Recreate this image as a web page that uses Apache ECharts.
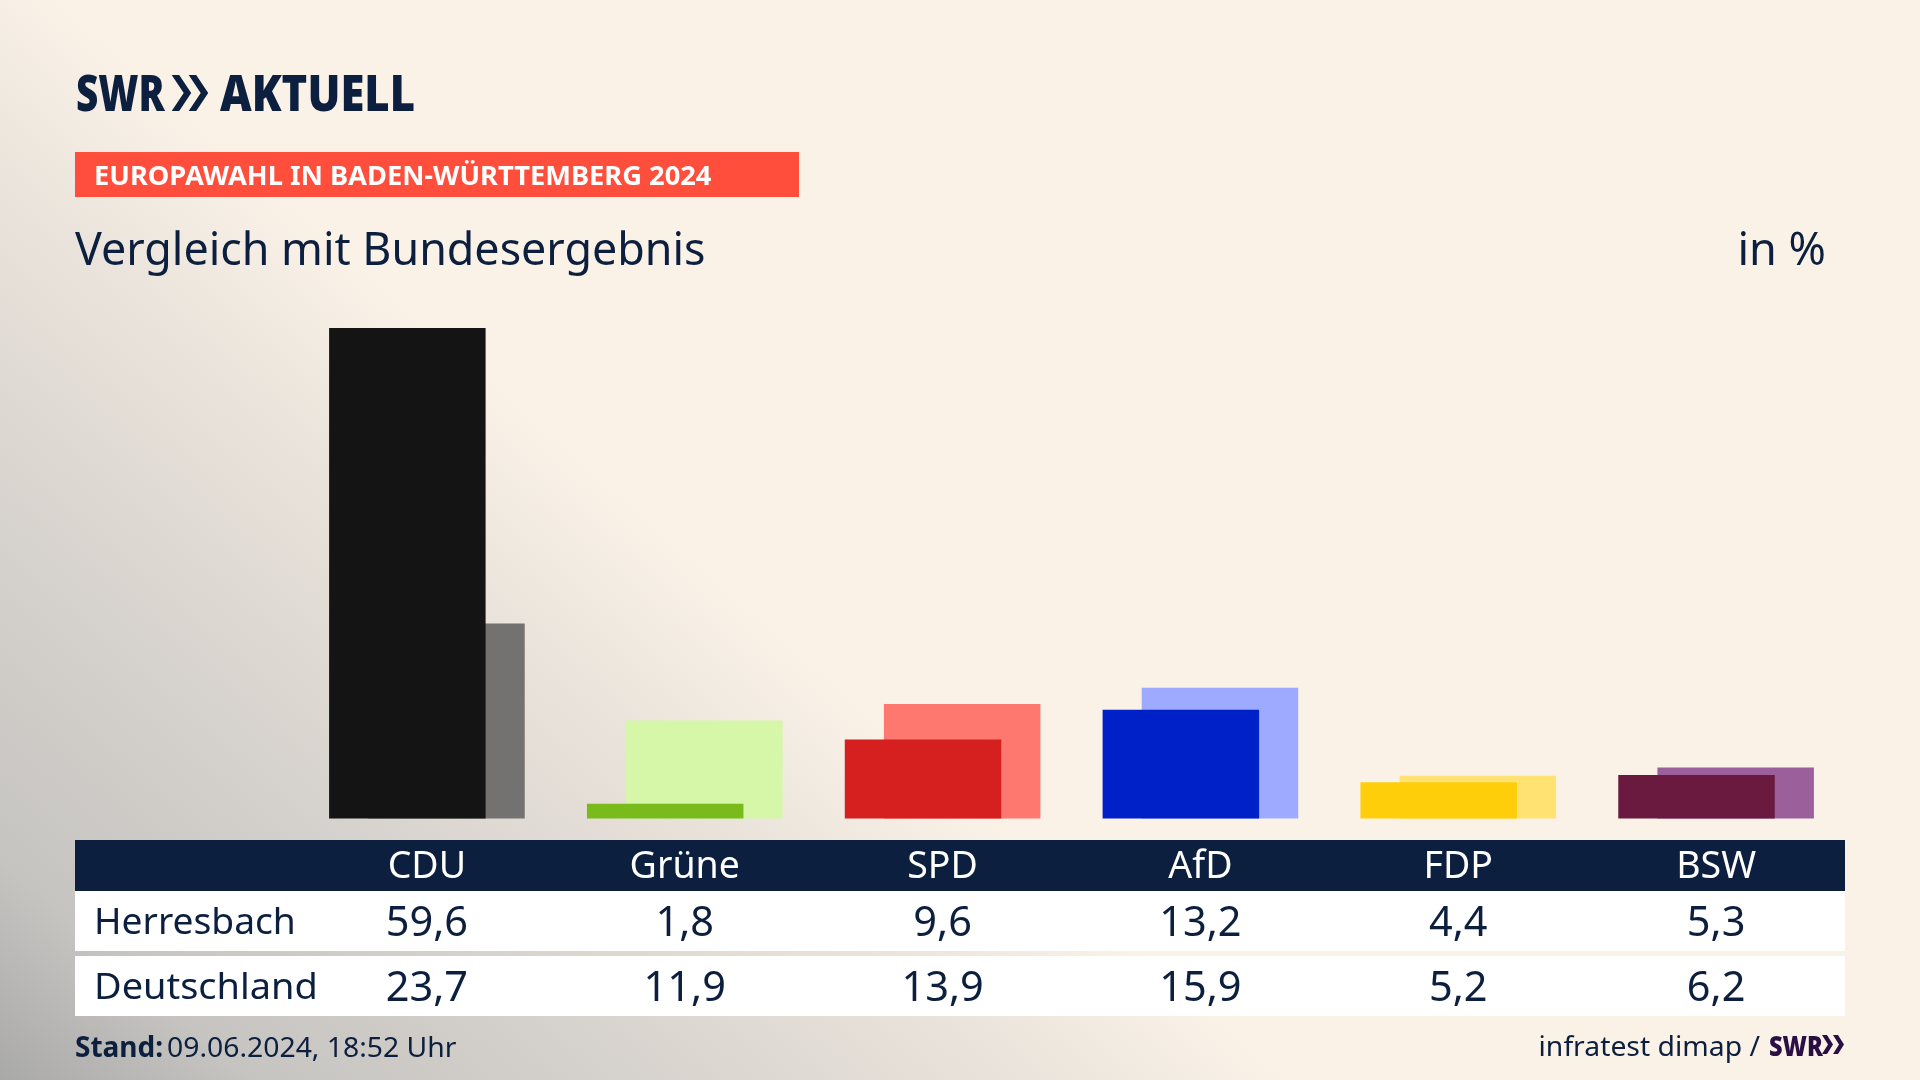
<!DOCTYPE html>
<html lang="de">
<head>
<meta charset="utf-8">
<title>Europawahl in Baden-Württemberg 2024</title>
<script src="https://cdn.jsdelivr.net/npm/echarts@6/dist/echarts.min.js"></script>
<style>
html,body{margin:0;padding:0;width:1920px;height:1080px;overflow:hidden;background:#FAF2E7}
#bg{position:absolute;left:0;top:0;width:1920px;height:1080px;
background:linear-gradient(221.3deg,#FAF2E7 0%,#FAF2E7 59.2%,#EBE4DC 67.1%,#D6D2CD 79.9%,#C6C4C1 92%,#A9A9A8 100%)}
#c{position:absolute;left:0;top:0;width:1920px;height:1080px}
</style>
</head>
<body>
<div id="bg"></div>
<div id="c"></div>
<script>
const categories = ['CDU', 'Grüne', 'SPD', 'AfD', 'FDP', 'BSW'];
const herresbach = [59.6, 1.8, 9.6, 13.2, 4.4, 5.3];
const deutschland = [23.7, 11.9, 13.9, 15.9, 5.2, 6.2];
const rowNames = ['Herresbach', 'Deutschland'];
const partyColors = ['#141414', '#78BB1B', '#D61F1F', '#0020C8', '#FFCE0A', '#6A1A3E'];
const ghostColors = ['#737270', '#D6F6A8', '#FF7870', '#9DAAFF', '#FFE272', '#9B609B'];

const NAVY = '#0C1F3F';
const FONT = '"Noto Sans"';
const chart = echarts.init(document.getElementById('c'), null, {renderer: 'canvas', width: 1920, height: 1080});

chart.setOption({
  animation: false,
  backgroundColor: 'transparent',
  grid: {left: 298, width: 1547, top: 328, height: 490.5, containLabel: false},
  xAxis: {
    type: 'category', data: categories, z: 5,
    axisLine: {show: false}, axisTick: {show: false}, splitLine: {show: false},
    axisLabel: {color: '#FFFFFF', fontFamily: FONT, fontSize: 37.5, margin: 30, interval: 0}
  },
  yAxis: {type: 'value', min: 0, max: 59.6, show: false},
  series: [
    {name: rowNames[0], type: 'bar', z: 3, barWidth: 156.5, barGap: '-75%',
     data: herresbach.map((v, i) => ({value: v, itemStyle: {color: partyColors[i]}}))},
    {name: rowNames[1], type: 'bar', z: 2, barWidth: 156.5,
     data: deutschland.map((v, i) => ({value: v, itemStyle: {color: ghostColors[i]}}))}
  ]
});

function label(text, x, y, size, o = {}) {
  return {
    type: 'text', x, y, z: 10, scaleX: o.sx || 1, scaleY: 1,
    style: {
      text, fill: o.color || NAVY,
      font: `${o.weight || 'normal'} ${size}px ${FONT}`,
      textAlign: o.align || 'left', textVerticalAlign: 'middle'
    }
  };
}
function rect(x, y, w, h, color) {
  return {type: 'rect', z: -1, shape: {x, y, width: w, height: h}, style: {fill: color}};
}
function chevron(x, y, s, d, h, color) {
  return {type: 'polygon', z: 10, shape: {points: [
    [x, y], [x + s, y], [x + s + d, y + h / 2], [x + s, y + h], [x, y + h], [x + d, y + h / 2]
  ]}, style: {fill: color}};
}
const fmt = v => v.toFixed(1).replace('.', ',');
const centers = categories.map(c => chart.convertToPixel({xAxisIndex: 0}, c));

const elements = [
  rect(75, 152, 724, 45, '#FF4F3C'),
  rect(75, 840, 1770, 51, NAVY),
  rect(75, 891, 1770, 60, '#FFFFFF'),
  rect(75, 956, 1770, 60, '#FFFFFF'),
  label('SWR', 76, 97, 49, {weight: '900', sx: 0.79}),
  chevron(171.7, 75, 7.5, 12, 36, NAVY),
  chevron(188.7, 75, 7.5, 12, 36, NAVY),
  label('AKTUELL', 220, 97, 49, {weight: '900', sx: 0.89}),
  label('EUROPAWAHL IN BADEN-WÜRTTEMBERG 2024', 94, 177.5, 27, {weight: 'bold', color: '#FFFFFF', sx: 1.01}),
  label('Vergleich mit Bundesergebnis', 75, 252, 44.8),
  label('in %', 1826, 252, 45, {align: 'right'}),
  label(rowNames[0], 94, 923.5, 37, {sx: 1.005}),
  label(rowNames[1], 94, 988.5, 37, {sx: 1.025}),
  label('Stand:', 75, 1049.5, 28, {weight: 'bold'}),
  label('09.06.2024, 18:52 Uhr', 167, 1049.5, 28, {sx: 1.012}),
  label('infratest dimap /', 1760, 1048.5, 28, {align: 'right', sx: 1.012}),
  label('SWR', 1769, 1048, 28, {weight: '900', color: '#2A0F45', sx: 0.84}),
  chevron(1822, 1035, 5, 6, 19, '#2A0F45'),
  chevron(1833, 1035, 5, 6, 19, '#2A0F45')
];
centers.forEach((cx, i) => {
  elements.push(label(fmt(herresbach[i]), cx, 924, 41.5, {align: 'center'}));
  elements.push(label(fmt(deutschland[i]), cx, 989, 41.5, {align: 'center'}));
});
chart.setOption({graphic: {elements}});
</script>
</body>
</html>
